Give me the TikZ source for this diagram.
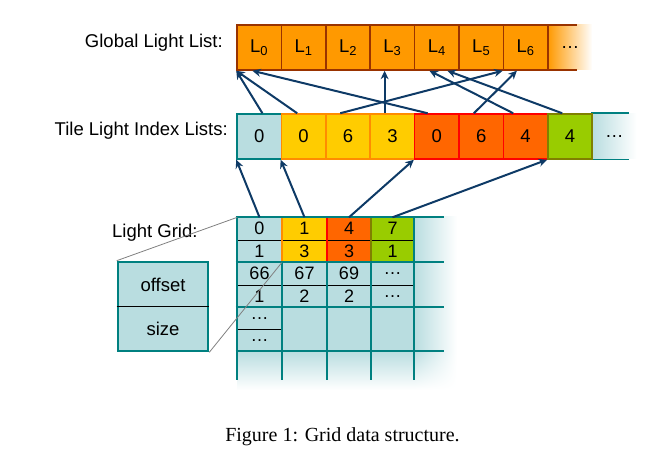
\documentclass[tikz,border=0pt]{standalone}
\usepackage{fontspec}
\setmainfont{Liberation Sans}
\newfontfamily\capfont{Liberation Serif}
\usetikzlibrary{arrows.meta,calc,shadings}
\definecolor{lb}{RGB}{185,221,224}
\definecolor{tealc}{RGB}{0,128,128}
\definecolor{gfill}{RGB}{255,153,0}
\definecolor{gbord}{RGB}{153,51,0}
\definecolor{yel}{RGB}{255,204,0}
\definecolor{yelb}{RGB}{255,140,0}
\definecolor{org}{RGB}{255,102,0}
\definecolor{orgb}{RGB}{255,0,0}
\definecolor{grn}{RGB}{153,204,0}
\definecolor{grnb}{RGB}{128,128,0}
\definecolor{arrowblue}{RGB}{14,58,102}
\tikzset{
  lbl/.style={inner sep=0pt, font=\fontsize{18.5bp}{22bp}\selectfont},
  gbox/.style={draw=gbord, fill=gfill, line width=1.5bp, minimum width=44.4bp, minimum height=45bp, inner sep=0pt, font=\fontsize{18.5bp}{22bp}\selectfont},
  tbox/.style={line width=1.5bp, minimum width=44.4bp, minimum height=45bp, inner sep=0pt, font=\fontsize{18.5bp}{22bp}\selectfont},
  tblue/.style={tbox, draw=tealc, fill=lb},
  tyel/.style={tbox, draw=yelb, fill=yel},
  torg/.style={tbox, draw=orgb, fill=org},
  tgrn/.style={tbox, draw=grnb, fill=grn},
  gcell/.style={minimum width=44bp, minimum height=22.5bp, inner sep=0pt, font=\fontsize{18bp}{20bp}\selectfont},
  gridline/.style={draw=tealc, line width=2.6bp},
  thinline/.style={draw=black, line width=0.8bp},
  arr/.style={draw=arrowblue, line width=2bp, -{Stealth[length=8.5bp,width=8bp]}},
}
\begin{document}
\begin{tikzpicture}[x=1bp,y=-1bp]
\useasboundingbox (0,0) rectangle (656,462);

% labels
\node[lbl, anchor=east] (lglobal) at (223,43) {Global Light List:};
\node[lbl, anchor=east] (ltile) at (228,131) {Tile Light Index Lists:};
\node[lbl, anchor=west] (lgrid) at (112,233) {Light Grid:};

% global light list
\node[minimum width=44.4bp, minimum height=45bp, inner sep=0pt, left color=gfill, right color=white, font=\fontsize{18.5bp}{22bp}\selectfont] (gdots) at (570,47.5) {\dots};
\draw[gbord, line width=1.5bp] (gdots.north west) -- ++(29,0);
\draw[gbord, line width=1.5bp] (gdots.south west) -- ++(29,0);
\node[gbox] (g0) at (259.2,47.5) {L\textsubscript{0}};
\node[gbox] (g1) at (303.6,47.5) {L\textsubscript{1}};
\node[gbox] (g2) at (348.0,47.5) {L\textsubscript{2}};
\node[gbox] (g3) at (392.4,47.5) {L\textsubscript{3}};
\node[gbox] (g4) at (436.8,47.5) {L\textsubscript{4}};
\node[gbox] (g5) at (481.2,47.5) {L\textsubscript{5}};
\node[gbox] (g6) at (525.6,47.5) {L\textsubscript{6}};

% tile light index lists
\node[tbox, left color=lb, right color=white] (tdots) at (614.4,136.5) {\dots};
\draw[tealc, line width=1.5bp] (tdots.north west) -- ++(38,0);
\draw[tealc, line width=1.5bp] (tdots.south west) -- ++(38,0);
\node[tblue] (t0) at (259.2,136.5) {0};
\node[tyel] (t1) at (303.6,136.5) {0};
\node[tyel] (t2) at (348.0,136.5) {6};
\node[tyel] (t3) at (392.4,136.5) {3};
\node[torg] (t4) at (436.8,136.5) {0};
\node[torg] (t5) at (481.2,136.5) {6};
\node[torg] (t6) at (525.6,136.5) {4};
\node[tgrn] (t7) at (570.0,136.5) {4};

% light grid background
\fill[lb] (237,217) rectangle (414,351);
\shade[left color=lb, right color=white] (414,217) rectangle (457,351);
\shade[top color=lb, bottom color=white] (237,351) rectangle (414,390);
\shade[upper left=lb, upper right=white, lower left=white, lower right=white] (414,351) rectangle (457,390);
\fill[yel] (282,217) rectangle (327,262);
\fill[org] (327,217) rectangle (371,262);
\fill[grn] (371,217) rectangle (414,262);

% grid cell texts
\node[gcell] (o0) at (259.5,228.75) {0};
\node[gcell] (s0) at (259.5,251.25) {1};
\node[gcell] (o1) at (304.5,228.75) {1};
\node[gcell] (s1) at (304.5,251.25) {3};
\node[gcell] (o2) at (349.0,228.75) {4};
\node[gcell] (s2) at (349.0,251.25) {3};
\node[gcell] (o3) at (392.5,228.75) {7};
\node[gcell] (s3) at (392.5,251.25) {1};
\node[gcell] (o4) at (259.5,273.75) {66};
\node[gcell] (s4) at (259.5,296.25) {1};
\node[gcell] (o5) at (304.5,273.75) {67};
\node[gcell] (s5) at (304.5,296.25) {2};
\node[gcell] (o6) at (349.0,273.75) {69};
\node[gcell] (s6) at (349.0,296.25) {2};
\node[gcell] (o7) at (392.5,273.75) {\dots};
\node[gcell] (s7) at (392.5,296.25) {\dots};
\node[gcell] (o8) at (259.5,318.25) {\dots};
\node[gcell] (s8) at (259.5,340.25) {\dots};

% thin dividers
\draw[thinline] (o0.south west) -- (o3.south east);
\draw[thinline] (o4.south west) -- (o7.south east);
\draw[thinline] (o8.south west) -- (o8.south east);

% grid lines
\foreach \gx in {237,282,327,371,414} \draw[gridline] (\gx,217) -- (\gx,380);
\draw[yelb, line width=2.6bp] (282,217) -- (282,262);
\draw[orgb, line width=2.6bp] (327,217) -- (327,262);
\draw[grnb, line width=2.6bp] (371,217) -- (371,262);
\foreach \gy in {217,262,307,351} \draw[gridline] (235.7,\gy) -- (444,\gy);

% offset / size box
\node[draw=tealc, line width=2.6bp, fill=lb, minimum width=90bp, minimum height=89bp, inner sep=0pt] (ob) at (163,306.5) {};
\draw[thinline] (ob.west) -- (ob.east);
\node[lbl] (off) at (163,285) {offset};
\node[lbl] (sz) at (163,328.5) {size};
\draw[gray, line width=0.8bp] (ob.north west) -- (o0.north west);
\draw[gray, line width=0.8bp] (ob.south east) -- (s0.south east);

% grid -> tile list arrows
\draw[arr] (o0.north) -- (t0.south west);
\draw[arr] (o1.north) -- (t1.south west);
\draw[arr] (o2.north) -- (t4.south west);
\draw[arr] (o3.north) -- (t7.south west);

% tile list -> global list arrows
\draw[arr] ($(t0.north west)!0.57!(t0.north east)$) -- (g0.south west);
\draw[arr] ($(t1.north west)!0.36!(t1.north east)$) -- (g0.south west);
\draw[arr] ($(t2.north west)!0.33!(t2.north east)$) -- (g6.south west);
\draw[arr] ($(t3.north west)!0.33!(t3.north east)$) -- ($(g3.south west)!0.33!(g3.south east)$);
\draw[arr] ($(t4.north west)!0.30!(t4.north east)$) -- ($(g0.south west)!0.35!(g0.south east)$);
\draw[arr] ($(t5.north west)!0.34!(t5.north east)$) -- ($(g6.south west)!0.31!(g6.south east)$);
\draw[arr] ($(t6.north west)!0.23!(t6.north east)$) -- ($(g4.south west)!0.34!(g4.south east)$);
\draw[arr] ($(t7.north west)!0.33!(t7.north east)$) -- ($(g4.south west)!0.73!(g4.south east)$);

% caption
\node[font=\capfont\fontsize{20bp}{24bp}\selectfont, inner sep=0pt] (cap) at (342.5,437) {Figure 1: Grid data structure.};
\end{tikzpicture}
\end{document}
